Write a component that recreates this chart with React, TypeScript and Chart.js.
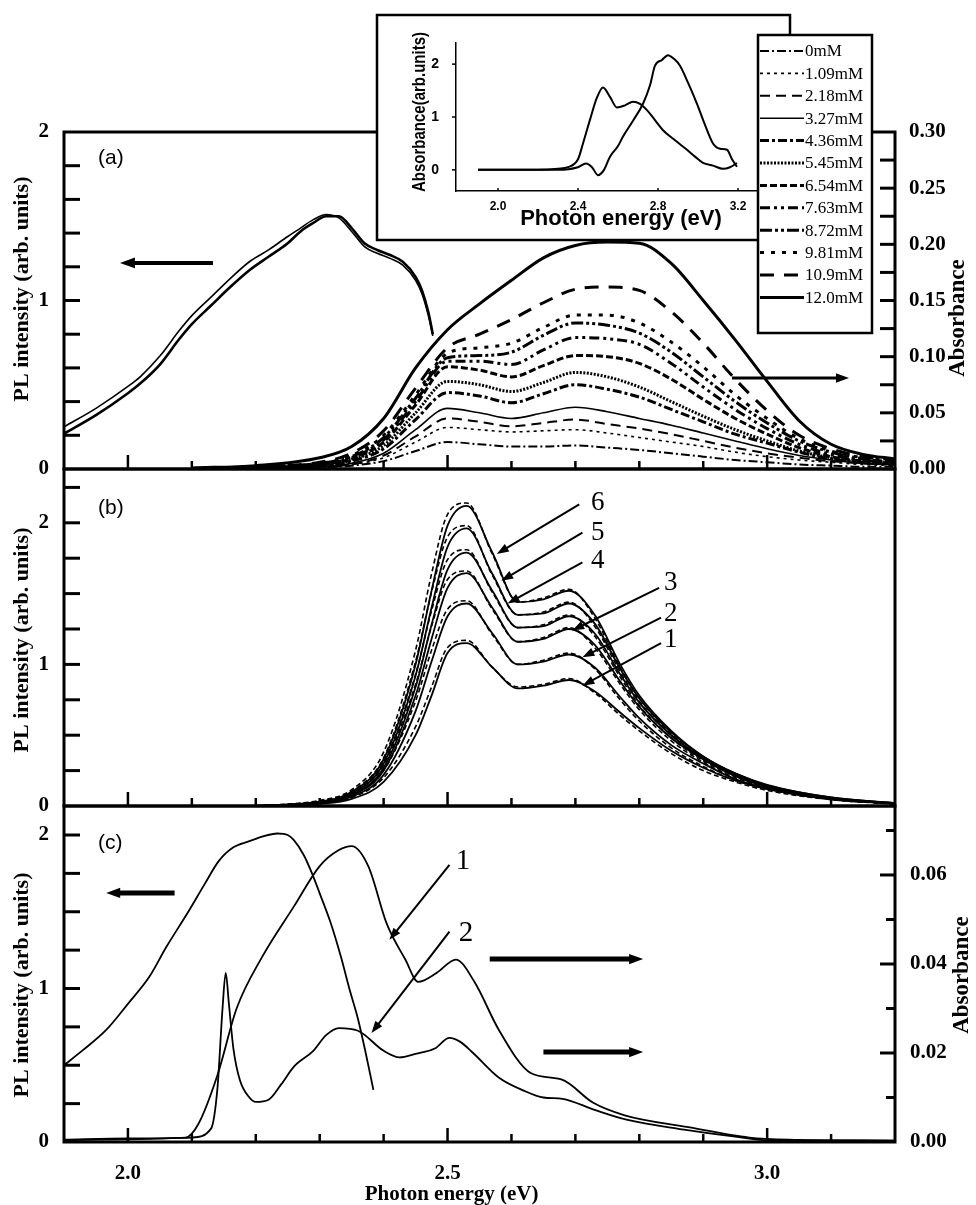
import React, { useEffect, useRef } from 'react';
import { Chart, registerables } from 'chart.js';

Chart.register(...registerables);

const W = 976;
const H = 1205;
const SERIF = "'Liberation Serif', 'Times New Roman', serif";
const SANS = "'Liberation Sans', Arial, sans-serif";

// ---------------- shared x axis ----------------
const xMin = 1.9;
const xMax = 3.2;
const xTickLabels = [2.0, 2.5, 3.0];
const xTickMarks = [2.0, 2.1, 2.2, 2.3, 2.4, 2.5, 2.6, 2.7, 2.8, 2.9, 3.0, 3.1];

// ---------------- panel (a) ----------------
const aPlE = [1.9, 1.95, 2.0, 2.02, 2.05, 2.08, 2.1, 2.13, 2.16, 2.19, 2.22, 2.25, 2.27, 2.29, 2.31, 2.33, 2.35, 2.37, 2.39, 2.41, 2.43, 2.45, 2.46, 2.47, 2.477];
const aPlThick = [0.21, 0.32, 0.45, 0.51, 0.62, 0.77, 0.86, 0.97, 1.08, 1.18, 1.26, 1.34, 1.41, 1.46, 1.5, 1.5, 1.43, 1.34, 1.3, 1.27, 1.23, 1.14, 1.06, 0.93, 0.8];
const aPlThin = [0.25, 0.36, 0.49, 0.55, 0.67, 0.82, 0.91, 1.02, 1.13, 1.23, 1.3, 1.38, 1.43, 1.48, 1.51, 1.49, 1.41, 1.32, 1.28, 1.25, 1.21, 1.12, 1.04, 0.91, 0.79];

const aAbsE = [2.1, 2.2, 2.3, 2.35, 2.4, 2.45, 2.5, 2.55, 2.6, 2.65, 2.7, 2.75, 2.8, 2.85, 2.9, 2.95, 3.0, 3.05, 3.1, 3.15, 3.2];
const concLabels = ['0mM', '1.09mM', '2.18mM', '3.27mM', '4.36mM', '5.45mM', '6.54mM', '7.63mM', '8.72mM', '9.81mM', '10.9mM', '12.0mM'];
const abs0mM = [0.0, 0.0, 0.001, 0.003, 0.007, 0.016, 0.024, 0.022, 0.02, 0.02, 0.021, 0.019, 0.017, 0.014, 0.011, 0.008, 0.006, 0.004, 0.003, 0.002, 0.002];
const abs1_09 = [0.0, 0.001, 0.002, 0.004, 0.01, 0.024, 0.037, 0.035, 0.033, 0.034, 0.035, 0.032, 0.028, 0.024, 0.02, 0.015, 0.011, 0.008, 0.006, 0.004, 0.003];
const abs2_18 = [0.0, 0.001, 0.002, 0.004, 0.012, 0.029, 0.045, 0.042, 0.038, 0.041, 0.044, 0.04, 0.036, 0.031, 0.025, 0.019, 0.014, 0.01, 0.007, 0.005, 0.004];
const abs3_27 = [0.0, 0.001, 0.002, 0.005, 0.014, 0.035, 0.054, 0.05, 0.045, 0.05, 0.055, 0.051, 0.045, 0.039, 0.032, 0.025, 0.018, 0.012, 0.008, 0.005, 0.004];
const abs4_36 = [0.0, 0.001, 0.003, 0.007, 0.018, 0.044, 0.068, 0.065, 0.059, 0.067, 0.075, 0.071, 0.064, 0.053, 0.042, 0.031, 0.023, 0.015, 0.009, 0.006, 0.004];
const abs5_45 = [0.0, 0.001, 0.003, 0.008, 0.021, 0.05, 0.078, 0.075, 0.069, 0.077, 0.086, 0.082, 0.073, 0.06, 0.047, 0.035, 0.025, 0.016, 0.01, 0.006, 0.005];
const abs6_54 = [0.0, 0.001, 0.004, 0.009, 0.024, 0.057, 0.091, 0.088, 0.082, 0.092, 0.101, 0.1, 0.094, 0.08, 0.062, 0.045, 0.031, 0.019, 0.011, 0.007, 0.005];
const abs7_63 = [0.0, 0.002, 0.004, 0.01, 0.026, 0.06, 0.096, 0.096, 0.093, 0.106, 0.117, 0.116, 0.111, 0.094, 0.073, 0.053, 0.036, 0.022, 0.013, 0.008, 0.006];
const abs8_72 = [0.0, 0.002, 0.005, 0.011, 0.028, 0.063, 0.099, 0.101, 0.104, 0.119, 0.13, 0.128, 0.121, 0.104, 0.082, 0.06, 0.041, 0.025, 0.015, 0.009, 0.006];
const abs9_81 = [0.0, 0.002, 0.005, 0.012, 0.03, 0.066, 0.103, 0.108, 0.112, 0.126, 0.137, 0.137, 0.13, 0.113, 0.091, 0.066, 0.045, 0.027, 0.016, 0.01, 0.007];
const abs10_9 = [0.0, 0.002, 0.006, 0.014, 0.034, 0.072, 0.108, 0.12, 0.133, 0.148, 0.16, 0.162, 0.159, 0.14, 0.112, 0.08, 0.052, 0.03, 0.018, 0.011, 0.008];
const abs12_0 = [0.001, 0.003, 0.01, 0.02, 0.045, 0.09, 0.124, 0.147, 0.168, 0.188, 0.199, 0.202, 0.201, 0.183, 0.15, 0.115, 0.078, 0.043, 0.022, 0.013, 0.009];
const aAbsSeries = [abs0mM, abs1_09, abs2_18, abs3_27, abs4_36, abs5_45, abs6_54, abs7_63, abs8_72, abs9_81, abs10_9, abs12_0];
const aLeftLabels = [0, 1, 2];
const aLeftMarks = [0.2, 0.4, 0.6, 0.8, 1.0, 1.2, 1.4, 1.6, 1.8];
const aRightLabels = [0, 0.05, 0.1, 0.15, 0.2, 0.25, 0.3];
const aRightMarks = [0.025, 0.05, 0.075, 0.1, 0.125, 0.15, 0.175, 0.2, 0.225, 0.25, 0.275];

// line styles for the 12 concentrations (legend + curves)
const absStyles = [
  { w: 2, dash: [9, 3, 2, 3] },
  { w: 1.6, dash: [3, 4] },
  { w: 2, dash: [10, 6] },
  { w: 1.6, dash: [] },
  { w: 3, dash: [9, 3, 3, 3] },
  { w: 3, dash: [2, 1.5] },
  { w: 3, dash: [7, 3] },
  { w: 3, dash: [10, 4, 3, 4, 3, 4] },
  { w: 3, dash: [12, 3, 3, 3, 3, 3] },
  { w: 3, dash: [4, 7] },
  { w: 3, dash: [14, 10] },
  { w: 3, dash: [] },
];

// ---------------- panel (b) ----------------
const bE = [2.2, 2.3, 2.35, 2.4, 2.45, 2.475, 2.5, 2.53, 2.57, 2.61, 2.65, 2.69, 2.73, 2.77, 2.8, 2.85, 2.9, 2.95, 3.0, 3.1, 3.2];
const b1Solid = [0, 0.015, 0.05, 0.17, 0.5, 0.78, 1.08, 1.15, 0.98, 0.83, 0.85, 0.89, 0.81, 0.66, 0.55, 0.39, 0.27, 0.18, 0.12, 0.05, 0.018];
const b1Dash = [0, 0.02, 0.06, 0.2, 0.56, 0.84, 1.12, 1.17, 0.98, 0.84, 0.86, 0.9, 0.8, 0.64, 0.53, 0.37, 0.25, 0.17, 0.11, 0.045, 0.015];
const b2Solid = [0, 0.02, 0.065, 0.22, 0.67, 1.02, 1.34, 1.43, 1.22, 1.0, 1.02, 1.07, 0.98, 0.77, 0.62, 0.43, 0.3, 0.19, 0.125, 0.05, 0.018];
const b2Dash = [0, 0.025, 0.075, 0.25, 0.74, 1.1, 1.39, 1.45, 1.21, 1.0, 1.03, 1.08, 0.97, 0.75, 0.6, 0.41, 0.28, 0.18, 0.12, 0.045, 0.015];
const b3Solid = [0, 0.025, 0.075, 0.25, 0.78, 1.18, 1.54, 1.645, 1.4, 1.16, 1.18, 1.25, 1.14, 0.88, 0.7, 0.48, 0.33, 0.21, 0.135, 0.055, 0.02];
const b3Dash = [0, 0.03, 0.085, 0.29, 0.86, 1.27, 1.6, 1.66, 1.39, 1.16, 1.19, 1.26, 1.12, 0.86, 0.68, 0.46, 0.31, 0.2, 0.13, 0.05, 0.016];
const b4Solid = [0, 0.025, 0.08, 0.27, 0.84, 1.28, 1.67, 1.79, 1.52, 1.26, 1.27, 1.34, 1.22, 0.93, 0.73, 0.5, 0.34, 0.22, 0.14, 0.055, 0.02];
const b4Dash = [0, 0.03, 0.095, 0.31, 0.93, 1.38, 1.74, 1.81, 1.51, 1.26, 1.28, 1.35, 1.2, 0.91, 0.71, 0.48, 0.32, 0.21, 0.13, 0.05, 0.016];
const b5Solid = [0, 0.03, 0.09, 0.3, 0.92, 1.4, 1.83, 1.96, 1.64, 1.35, 1.36, 1.43, 1.29, 0.97, 0.76, 0.52, 0.35, 0.23, 0.145, 0.06, 0.02];
const b5Dash = [0, 0.035, 0.105, 0.34, 1.02, 1.51, 1.9, 1.98, 1.63, 1.35, 1.37, 1.44, 1.27, 0.95, 0.74, 0.5, 0.33, 0.22, 0.14, 0.05, 0.016];
const b6Solid = [0, 0.03, 0.1, 0.33, 1.0, 1.52, 1.98, 2.12, 1.79, 1.44, 1.46, 1.52, 1.35, 1.0, 0.78, 0.53, 0.35, 0.23, 0.15, 0.06, 0.02];
const b6Dash = [0, 0.04, 0.115, 0.38, 1.1, 1.64, 2.06, 2.14, 1.78, 1.44, 1.47, 1.53, 1.33, 0.98, 0.76, 0.51, 0.33, 0.22, 0.14, 0.05, 0.016];
const bSolidSeries = [b1Solid, b2Solid, b3Solid, b4Solid, b5Solid, b6Solid];
const bDashSeries = [b1Dash, b2Dash, b3Dash, b4Dash, b5Dash, b6Dash];
const bLeftLabels = [0, 1, 2];
const bLeftMarks = [0.25, 0.5, 0.75, 1.0, 1.25, 1.5, 1.75, 2.0, 2.25];

// ---------------- panel (c) ----------------
const cPlE = [1.9, 1.93, 1.966, 2.0, 2.034, 2.06, 2.093, 2.12, 2.142, 2.165, 2.19, 2.21, 2.234, 2.25, 2.259, 2.275, 2.288, 2.3, 2.317, 2.333, 2.347, 2.36, 2.372, 2.384];
const cPl = [0.5, 0.6, 0.73, 0.9, 1.08, 1.27, 1.49, 1.68, 1.83, 1.92, 1.96, 1.99, 2.01, 2.0, 1.97, 1.87, 1.75, 1.62, 1.43, 1.21, 0.99, 0.8, 0.58, 0.34];
const cAbs1E = [1.9, 2.0, 2.09, 2.11, 2.14, 2.17, 2.21, 2.26, 2.3, 2.33, 2.35, 2.376, 2.405, 2.434, 2.454, 2.483, 2.513, 2.542, 2.581, 2.63, 2.679, 2.728, 2.777, 2.874, 2.972, 3.05, 3.2];
const cAbs1 = [0.0005, 0.0008, 0.001, 0.004, 0.015, 0.03, 0.0416, 0.053, 0.062, 0.0656, 0.0665, 0.062, 0.049, 0.041, 0.036, 0.038, 0.041, 0.036, 0.025, 0.0155, 0.014, 0.0088, 0.006, 0.0034, 0.001, 0.0005, 0.0003];
const cAbs2E = [1.9, 2.0, 2.1, 2.13, 2.14, 2.148, 2.153, 2.158, 2.165, 2.175, 2.19, 2.2, 2.22, 2.24, 2.26, 2.29, 2.31, 2.33, 2.36, 2.4, 2.425, 2.45, 2.48, 2.503, 2.52, 2.54, 2.58, 2.62, 2.65, 2.68, 2.73, 2.78, 2.87, 2.95, 3.0, 3.2];
const cAbs2 = [0.0004, 0.0006, 0.001, 0.003, 0.012, 0.03, 0.038, 0.031, 0.021, 0.014, 0.01, 0.009, 0.0095, 0.013, 0.017, 0.0205, 0.024, 0.0256, 0.025, 0.0205, 0.019, 0.0198, 0.021, 0.0234, 0.0225, 0.02, 0.0145, 0.0115, 0.01, 0.0097, 0.0072, 0.005, 0.0028, 0.0012, 0.0004, 0.0003];
const cLeftLabels = [0, 1, 2];
const cLeftMarks = [0.25, 0.5, 0.75, 1.0, 1.25, 1.5, 1.75, 2.0];
const cRightLabels = [0, 0.02, 0.04, 0.06];
const cRightMarks = [0.01, 0.02, 0.03, 0.04, 0.05, 0.06, 0.07];

// ---------------- inset ----------------
const insEA = [1.9, 2.0, 2.1, 2.2, 2.3, 2.35, 2.4, 2.425, 2.46, 2.495, 2.525, 2.56, 2.595, 2.635, 2.675, 2.71, 2.745, 2.785, 2.825, 2.885, 2.945, 2.985, 3.025, 3.075, 3.125, 3.16, 3.195];
const insA = [0.0, 0.0, 0.0, 0.0, 0.02, 0.05, 0.2, 0.5, 0.95, 1.37, 1.56, 1.38, 1.18, 1.22, 1.29, 1.25, 1.13, 0.94, 0.75, 0.56, 0.38, 0.25, 0.13, 0.08, 0.02, 0.05, 0.13];
const insEB = [1.9, 2.0, 2.1, 2.2, 2.3, 2.4, 2.44, 2.47, 2.5, 2.53, 2.56, 2.6, 2.625, 2.675, 2.725, 2.76, 2.785, 2.82, 2.85, 2.88, 2.91, 2.95, 2.995, 3.035, 3.075, 3.11, 3.145, 3.17, 3.195];
const insB = [0.0, 0.0, 0.0, 0.0, 0.0, 0.05, 0.12, 0.05, -0.1, 0.0, 0.25, 0.45, 0.63, 0.93, 1.25, 1.6, 1.97, 2.08, 2.17, 2.1, 1.97, 1.65, 1.25, 0.85, 0.5, 0.4, 0.38, 0.2, 0.06];
const insXLabels = [2.0, 2.4, 2.8, 3.2];
const insYLabels = [0, 1, 2];

// ---------------- annotations (data coordinates) ----------------
const aArrows = [
  { from: [2.133, 1.223], to: [1.9875, 1.223], axis: 'y', lw: 4, head: 15 },
  { from: [2.945, 0.081], to: [3.128, 0.081], axis: 'y2', lw: 3, head: 13 },
];
const bArrows = [
  { from: [2.706, 2.13], to: [2.577, 1.78], axis: 'y', lw: 2, head: 12 },
  { from: [2.711, 1.93], to: [2.584, 1.59], axis: 'y', lw: 2, head: 12 },
  { from: [2.711, 1.72], to: [2.594, 1.43], axis: 'y', lw: 2, head: 12 },
  { from: [2.831, 1.54], to: [2.695, 1.24], axis: 'y', lw: 2, head: 12 },
  { from: [2.834, 1.33], to: [2.711, 1.05], axis: 'y', lw: 2, head: 12 },
  { from: [2.834, 1.15], to: [2.711, 0.85], axis: 'y', lw: 2, head: 12 },
];
const bNums = [
  { text: '6', at: [2.735, 2.14] },
  { text: '5', at: [2.735, 1.93] },
  { text: '4', at: [2.735, 1.73] },
  { text: '3', at: [2.849, 1.575] },
  { text: '2', at: [2.849, 1.36] },
  { text: '1', at: [2.849, 1.17] },
];
const cArrows = [
  { from: [2.503, 1.806], to: [2.409, 1.317], axis: 'y', lw: 2, head: 12 },
  { from: [2.503, 1.37], to: [2.381, 0.71], axis: 'y', lw: 2, head: 12 },
  { from: [2.073, 1.623], to: [1.966, 1.623], axis: 'y', lw: 5, head: 14 },
  { from: [2.566, 0.0411], to: [2.806, 0.0411], axis: 'y2', lw: 5, head: 14 },
  { from: [2.65, 0.0202], to: [2.806, 0.0202], axis: 'y2', lw: 5, head: 14 },
];
const cNums = [
  { text: '1', at: [2.524, 1.825] },
  { text: '2', at: [2.529, 1.362] },
];

// ---------------- helpers ----------------
const pts = (xs: number[], ys: number[]) => xs.map((x, i) => ({ x, y: ys[i] }));

function line(ds: any) {
  return {
    borderColor: '#000',
    backgroundColor: '#000',
    pointRadius: 0,
    fill: false,
    cubicInterpolationMode: 'monotone',
    ...ds,
  };
}

function tickFont(size = 21) {
  return { family: SERIF, size, weight: 'bold' };
}

function yAxis(min: number, max: number, labels: number[], position: string, width: number, fmt: (v: number) => string, padding: number) {
  return {
    type: 'linear',
    position,
    min,
    max,
    afterFit: (s: any) => {
      s.width = width;
    },
    afterBuildTicks: (s: any) => {
      s.ticks = labels.map((v) => ({ value: v }));
    },
    ticks: { font: tickFont(), color: '#000', padding, autoSkip: false, callback: (v: any) => fmt(Number(v)) },
    grid: { display: false },
    border: { display: false },
  };
}

function drawArrow(ctx: CanvasRenderingContext2D, x1: number, y1: number, x2: number, y2: number, lw: number, head: number) {
  const ang = Math.atan2(y2 - y1, x2 - x1);
  const c = Math.cos(ang);
  const s = Math.sin(ang);
  ctx.lineWidth = lw;
  ctx.beginPath();
  ctx.moveTo(x1, y1);
  ctx.lineTo(x2 - c * head * 0.7, y2 - s * head * 0.7);
  ctx.stroke();
  const hw = head * 0.36;
  ctx.beginPath();
  ctx.moveTo(x2, y2);
  ctx.lineTo(x2 - c * head - s * hw, y2 - s * head + c * hw);
  ctx.lineTo(x2 - c * head + s * hw, y2 - s * head - c * hw);
  ctx.closePath();
  ctx.fill();
}

function vText(ctx: CanvasRenderingContext2D, s: string, x: number, y: number, font: string, maxW?: number) {
  ctx.save();
  ctx.translate(x, y);
  ctx.rotate(-Math.PI / 2);
  ctx.font = font;
  ctx.textAlign = 'center';
  ctx.textBaseline = 'middle';
  if (maxW) ctx.fillText(s, 0, 0, maxW);
  else ctx.fillText(s, 0, 0);
  ctx.restore();
}

function panelPlugin(p: any) {
  return {
    id: 'panelDecor',
    afterDraw(chart: any) {
      const { ctx, chartArea: ca, scales } = chart;
      const xs = scales.x;
      ctx.save();
      ctx.strokeStyle = '#000';
      ctx.fillStyle = '#000';
      ctx.setLineDash([]);
      // bottom inward ticks
      ctx.lineWidth = 2.5;
      for (const v of xTickMarks) {
        const px = xs.getPixelForValue(v);
        const len = xTickLabels.includes(v) ? 14 : 8;
        ctx.beginPath();
        ctx.moveTo(px, ca.bottom);
        ctx.lineTo(px, ca.bottom - len);
        ctx.stroke();
      }
      // left inward ticks
      ctx.lineWidth = 3;
      for (const v of p.leftMarks) {
        const py = scales.y.getPixelForValue(v);
        ctx.beginPath();
        ctx.moveTo(ca.left, py);
        ctx.lineTo(ca.left + 16, py);
        ctx.stroke();
      }
      if (p.rightMarks) {
        for (const v of p.rightMarks) {
          const py = scales.y2.getPixelForValue(v);
          const len = p.rightMajor && !p.rightMajor.includes(v) ? 9 : 15;
          ctx.beginPath();
          ctx.moveTo(ca.right, py);
          ctx.lineTo(ca.right - len, py);
          ctx.stroke();
        }
      }
      // frame
      ctx.lineWidth = 3;
      ctx.strokeRect(ca.left, ca.top, ca.right - ca.left, ca.bottom - ca.top);
      // arrows
      for (const a of p.arrows) {
        const ys = scales[a.axis];
        drawArrow(ctx, xs.getPixelForValue(a.from[0]), ys.getPixelForValue(a.from[1]), xs.getPixelForValue(a.to[0]), ys.getPixelForValue(a.to[1]), a.lw, a.head);
      }
      // numbers
      ctx.font = `${p.numSize}px ${SERIF}`;
      ctx.textAlign = 'center';
      ctx.textBaseline = 'middle';
      for (const n of p.nums) {
        ctx.fillText(n.text, xs.getPixelForValue(n.at[0]), scales.y.getPixelForValue(n.at[1]));
      }
      // panel tag
      ctx.font = `21px ${SANS}`;
      ctx.textAlign = 'left';
      ctx.fillText(p.tag, ca.left + 34, ca.top + p.tagDy);
      // axis titles
      vText(ctx, 'PL intensity (arb. units)', 22, p.leftTitleY, `bold 22px ${SERIF}`);
      if (p.rightTitleY) vText(ctx, 'Absorbance', p.rightTitleX, p.rightTitleY, `bold 23px ${SERIF}`);
      if (p.xTitle) {
        ctx.font = `bold 21px ${SERIF}`;
        ctx.textAlign = 'center';
        ctx.textBaseline = 'middle';
        ctx.fillText('Photon energy (eV)', xs.getPixelForValue(2.5) + 4, 1195);
      }
      ctx.restore();
    },
  };
}

const baseOpts = {
  responsive: false,
  animation: false,
  devicePixelRatio: 1,
  events: [],
  plugins: { legend: { display: false }, tooltip: { enabled: false } },
};

function buildA() {
  const datasets: any[] = aAbsSeries.map((ys, i) =>
    line({ label: concLabels[i], data: pts(aAbsE, ys), yAxisID: 'y2', borderWidth: absStyles[i].w, borderDash: absStyles[i].dash })
  );
  datasets.push(line({ label: 'PL 1', data: pts(aPlE, aPlThin), yAxisID: 'y', borderWidth: 1.6 }));
  datasets.push(line({ label: 'PL 2', data: pts(aPlE, aPlThick), yAxisID: 'y', borderWidth: 2.6 }));
  return {
    type: 'line',
    data: { datasets },
    options: {
      ...baseOpts,
      layout: { padding: { left: 0, right: 0, top: 132, bottom: H - 469 } },
      scales: {
        x: { type: 'linear', min: xMin, max: xMax, display: false },
        y: yAxis(0, 2, aLeftLabels, 'left', 64, (v) => String(v), 7),
        y2: yAxis(0, 0.3, aRightLabels, 'right', 81, (v) => v.toFixed(2), 6),
      },
    },
    plugins: [
      panelPlugin({ tag: '(a)', tagDy: 26, leftMarks: aLeftMarks, rightMarks: aRightMarks, rightMajor: null, arrows: aArrows, nums: [], numSize: 26, leftTitleY: 289, rightTitleX: 958, rightTitleY: 318 }),
    ],
  };
}

function buildB() {
  const datasets: any[] = [];
  bSolidSeries.forEach((ys, i) => {
    datasets.push(line({ label: `${i + 1} dashed`, data: pts(bE, bDashSeries[i]), yAxisID: 'y', borderWidth: 1.6, borderDash: [5, 3] }));
    datasets.push(line({ label: `${i + 1}`, data: pts(bE, ys), yAxisID: 'y', borderWidth: 1.8 }));
  });
  return {
    type: 'line',
    data: { datasets },
    options: {
      ...baseOpts,
      layout: { padding: { left: 0, right: 81, top: 469, bottom: H - 806 } },
      scales: {
        x: { type: 'linear', min: xMin, max: xMax, display: false },
        y: yAxis(0, 2.38, bLeftLabels, 'left', 64, (v) => String(v), 7),
      },
    },
    plugins: [
      panelPlugin({ tag: '(b)', tagDy: 39, leftMarks: bLeftMarks, rightMarks: null, arrows: bArrows, nums: bNums, numSize: 27, leftTitleY: 640 }),
    ],
  };
}

function buildC() {
  const datasets: any[] = [
    line({ label: 'PL', data: pts(cPlE, cPl), yAxisID: 'y', borderWidth: 1.8 }),
    line({ label: '1', data: pts(cAbs1E, cAbs1), yAxisID: 'y2', borderWidth: 1.8 }),
    line({ label: '2', data: pts(cAbs2E, cAbs2), yAxisID: 'y2', borderWidth: 1.8 }),
  ];
  return {
    type: 'line',
    data: { datasets },
    options: {
      ...baseOpts,
      layout: { padding: { left: 0, right: 0, top: 806, bottom: 0 } },
      scales: {
        x: {
          type: 'linear',
          min: xMin,
          max: xMax,
          afterFit: (s: any) => {
            s.height = 63;
          },
          afterBuildTicks: (s: any) => {
            s.ticks = xTickLabels.map((v) => ({ value: v }));
          },
          ticks: { font: tickFont(), color: '#000', padding: 11, maxRotation: 0, autoSkip: false, callback: (v: any) => Number(v).toFixed(1) },
          grid: { display: false },
          border: { display: false },
        },
        y: yAxis(0, 2.189, cLeftLabels, 'left', 64, (v) => String(v), 7),
        y2: yAxis(0, 0.0755, cRightLabels, 'right', 81, (v) => v.toFixed(2), 7),
      },
    },
    plugins: [
      panelPlugin({ tag: '(c)', tagDy: 37, leftMarks: cLeftMarks, rightMarks: cRightMarks, rightMajor: cRightLabels, arrows: cArrows, nums: cNums, numSize: 29, leftTitleY: 985, rightTitleX: 962, rightTitleY: 975, xTitle: true }),
    ],
  };
}

const insetBox = {
  id: 'insetBox',
  beforeDraw(chart: any) {
    const { ctx } = chart;
    ctx.save();
    ctx.fillStyle = '#fff';
    ctx.fillRect(377, 15, 413, 225);
    ctx.strokeStyle = '#000';
    ctx.lineWidth = 2.5;
    ctx.strokeRect(377, 15, 413, 225);
    ctx.restore();
  },
  afterDraw(chart: any) {
    const { ctx, chartArea: ca, scales } = chart;
    ctx.save();
    ctx.strokeStyle = '#000';
    ctx.fillStyle = '#000';
    ctx.lineWidth = 1.5;
    for (const v of insYLabels) {
      const py = scales.y.getPixelForValue(v);
      ctx.beginPath();
      ctx.moveTo(ca.left - 4, py);
      ctx.lineTo(ca.left, py);
      ctx.stroke();
    }
    for (const v of insXLabels) {
      const px = scales.x.getPixelForValue(v);
      ctx.beginPath();
      ctx.moveTo(px, ca.bottom);
      ctx.lineTo(px, ca.bottom - 3);
      ctx.stroke();
    }
    vText(ctx, 'Absorbance(arb.units)', 420, 112, `bold 18px ${SANS}`, 160);
    ctx.font = `bold 22px ${SANS}`;
    ctx.textAlign = 'center';
    ctx.textBaseline = 'middle';
    ctx.fillText('Photon energy (eV)', 621, 219);

    // legend box for panel (a)
    ctx.fillStyle = '#fff';
    ctx.fillRect(758, 35, 114, 298);
    ctx.lineWidth = 2.5;
    ctx.strokeRect(758, 35, 114, 298);
    ctx.fillStyle = '#000';
    ctx.font = `17px ${SERIF}`;
    ctx.textAlign = 'left';
    ctx.textBaseline = 'middle';
    concLabels.forEach((lab, i) => {
      const y = 51 + i * 22.4;
      ctx.lineWidth = absStyles[i].w;
      ctx.setLineDash(absStyles[i].dash);
      ctx.beginPath();
      ctx.moveTo(760, y);
      ctx.lineTo(804, y);
      ctx.stroke();
      ctx.setLineDash([]);
      ctx.fillText(lab, 805, y + 1);
    });
    ctx.restore();
  },
};

function buildInset() {
  return {
    type: 'line',
    data: {
      datasets: [
        line({ label: 'A', data: pts(insEA, insA), borderWidth: 2 }),
        line({ label: 'B', data: pts(insEB, insB), borderWidth: 2 }),
      ],
    },
    options: {
      ...baseOpts,
      layout: { padding: { left: 426, right: W - 758, top: 43, bottom: H - 191 - 20 } },
      scales: {
        x: {
          type: 'linear',
          min: 1.79,
          max: 3.3,
          afterFit: (s: any) => {
            s.height = 20;
          },
          afterBuildTicks: (s: any) => {
            s.ticks = insXLabels.map((v) => ({ value: v }));
          },
          ticks: { font: { family: SANS, size: 12, weight: 'bold' }, color: '#000', padding: 0, maxRotation: 0, autoSkip: false, callback: (v: any) => Number(v).toFixed(1) },
          grid: { display: false },
          border: { display: true, width: 1.5, color: '#000' },
        },
        y: {
          type: 'linear',
          min: -0.4,
          max: 2.4,
          afterFit: (s: any) => {
            s.width = 30;
          },
          afterBuildTicks: (s: any) => {
            s.ticks = insYLabels.map((v) => ({ value: v }));
          },
          ticks: { font: { family: SANS, size: 14, weight: 'bold' }, color: '#000', padding: 9, autoSkip: false, callback: (v: any) => String(v) },
          grid: { display: false },
          border: { display: true, width: 1.5, color: '#000' },
        },
      },
    },
    plugins: [insetBox],
  };
}

export default function App() {
  const aRef = useRef<HTMLCanvasElement>(null);
  const bRef = useRef<HTMLCanvasElement>(null);
  const cRef = useRef<HTMLCanvasElement>(null);
  const iRef = useRef<HTMLCanvasElement>(null);

  useEffect(() => {
    const charts = [
      new Chart(aRef.current as any, buildA() as any),
      new Chart(bRef.current as any, buildB() as any),
      new Chart(cRef.current as any, buildC() as any),
      new Chart(iRef.current as any, buildInset() as any),
    ];
    return () => charts.forEach((c) => c.destroy());
  }, []);

  const cs: any = { position: 'absolute', left: 0, top: 0, width: W, height: H };
  return (
    <div style={{ position: 'absolute', left: 0, top: 0, width: W, height: H, background: '#fff', overflow: 'hidden' }}>
      <canvas ref={aRef} width={W} height={H} style={cs} />
      <canvas ref={bRef} width={W} height={H} style={cs} />
      <canvas ref={cRef} width={W} height={H} style={cs} />
      <canvas ref={iRef} width={W} height={H} style={cs} />
    </div>
  );
}
